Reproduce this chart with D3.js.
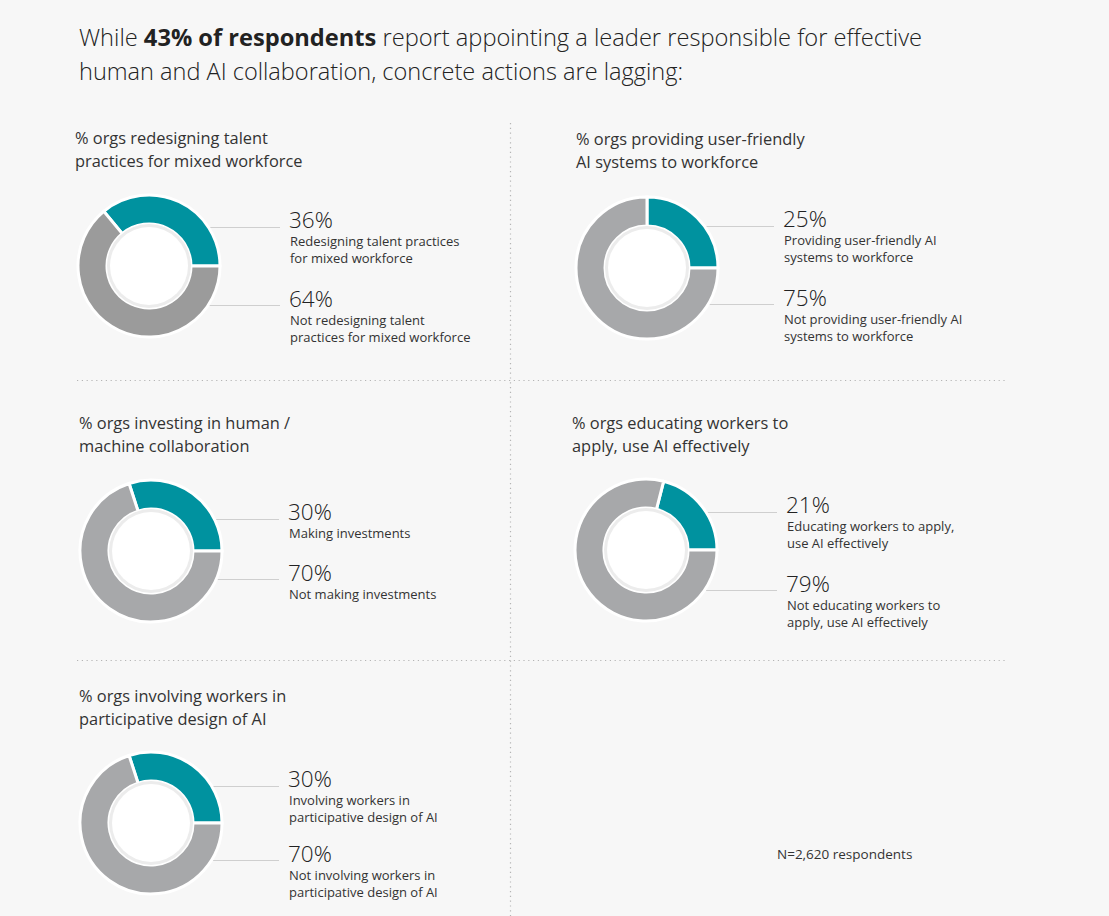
<!DOCTYPE html>
<html>
<head>
<meta charset="utf-8">
<script src="https://cdn.jsdelivr.net/npm/d3@7"></script>
<style>
  html, body { margin: 0; padding: 0; background: #f7f7f7; }
  svg { display: block; font-family: "Open Sans", "Noto Sans", sans-serif; }
</style>
</head>
<body>
<svg id="chart" width="1109" height="916"></svg>
<script>
// ---------- DATA ----------
const titleParts = [
  [{t: "While ", b: false}, {t: "43% of respondents", b: true}, {t: " report appointing a leader responsible for effective", b: false}],
  [{t: "human and AI collaboration, concrete actions are lagging:", b: false}]
];
const panelTitles = [
  ["% orgs redesigning talent", "practices for mixed workforce"],
  ["% orgs providing user-friendly", "AI systems to workforce"],
  ["% orgs investing in human /", "machine collaboration"],
  ["% orgs educating workers to", "apply, use AI effectively"],
  ["% orgs involving workers in", "participative design of AI"]
];
const yesValues = [36, 25, 30, 21, 30];
const noValues  = [64, 75, 70, 79, 70];
const yesLabels = [
  ["Redesigning talent practices", "for mixed workforce"],
  ["Providing user-friendly AI", "systems to workforce"],
  ["Making investments"],
  ["Educating workers to apply,", "use AI effectively"],
  ["Involving workers in", "participative design of AI"]
];
const noLabels = [
  ["Not redesigning talent", "practices for mixed workforce"],
  ["Not providing user-friendly AI", "systems to workforce"],
  ["Not making investments"],
  ["Not educating workers to", "apply, use AI effectively"],
  ["Not involving workers in", "participative design of AI"]
];
const footnote = "N=2,620 respondents";

// ---------- LAYOUT ----------
const layout = [
  {tx: 75,  ty: 144, cx: 149, cy: 266, lx: 290, yesY: 228, noY: 307, grey: "#9b9b9b"},
  {tx: 576, ty: 145, cx: 647, cy: 268, lx: 784, yesY: 227, noY: 306, grey: "#a7a8aa"},
  {tx: 79,  ty: 429, cx: 151, cy: 551, lx: 289, yesY: 520, noY: 581, grey: "#a7a8aa"},
  {tx: 572, ty: 429, cx: 646, cy: 550, lx: 787, yesY: 513, noY: 592, grey: "#a7a8aa"},
  {tx: 79,  ty: 702, cx: 151, cy: 823, lx: 289, yesY: 787, noY: 862, grey: "#a7a8aa"}
];
const teal = "#00929f";
const outerR = 71, innerR = 42, holeR = 39;

const svg = d3.select("#chart");
svg.append("rect").attr("width", 1109).attr("height", 916).attr("fill", "#f7f7f7");

// Title
const title = svg.append("g").attr("fill", "#222").style("font-size", "24px");
titleParts.forEach((parts, i) => {
  const t = title.append("text").attr("x", 79).attr("y", 46 + i * 34)
    .attr("textLength", i === 0 ? 843 : 604).attr("lengthAdjust", "spacingAndGlyphs");
  parts.forEach(p => t.append("tspan").text(p.t)
    .attr("font-weight", p.b ? 700 : 300));
});

// Dotted dividers
const div = svg.append("g").attr("stroke", "#b5b5b5").attr("stroke-width", 1.2)
  .attr("stroke-dasharray", "1.2,3.6");
div.append("line").attr("x1", 510.5).attr("x2", 510.5).attr("y1", 123).attr("y2", 916);
[380.5, 660.5].forEach(y => div.append("line").attr("x1", 77).attr("x2", 1007).attr("y1", y).attr("y2", y));

const arc = d3.arc().innerRadius(innerR).outerRadius(outerR);

panelTitles.forEach((pt, i) => {
  const L = layout[i];
  const g = svg.append("g");
  // panel title
  pt.forEach((line, j) => g.append("text").attr("x", L.tx).attr("y", L.ty + j * 23)
    .attr("fill", "#333").style("font-size", "16.4px").text(line));

  // leader lines (drawn behind donut)
  [L.yesY - 1, L.noY - 2].forEach(y => g.append("line")
    .attr("x1", L.cx + 40).attr("x2", L.lx - 10).attr("y1", y + 0.5).attr("y2", y + 0.5)
    .attr("stroke", "#cfcfcf").attr("stroke-width", 1));

  // donut
  const start = Math.PI / 2 - 2 * Math.PI * yesValues[i] / 100;
  const pie = d3.pie().sort(null).startAngle(start).endAngle(start + 2 * Math.PI);
  const arcs = pie([yesValues[i], noValues[i]]);
  const dg = g.append("g").attr("transform", `translate(${L.cx},${L.cy})`);
  dg.selectAll("path").data(arcs).join("path")
    .attr("d", arc)
    .attr("fill", (d, k) => k === 0 ? teal : L.grey)
    .attr("stroke", "#ffffff").attr("stroke-width", 3).attr("stroke-linejoin", "miter");
  dg.append("circle").attr("r", innerR).attr("fill", "#ececec");
  dg.append("circle").attr("r", holeR).attr("fill", "#ffffff");

  // labels
  const lab = (y, val, lines) => {
    g.append("text").attr("x", L.lx - 1).attr("y", y).attr("fill", "#222")
      .style("font-size", "22.5px").attr("font-weight", 300).text(val + "%");
    lines.forEach((ln, j) => g.append("text").attr("x", L.lx).attr("y", y + 18 + j * 17)
      .attr("fill", "#333").style("font-size", "13px").text(ln));
  };
  lab(L.yesY, yesValues[i], yesLabels[i]);
  lab(L.noY, noValues[i], noLabels[i]);
});

svg.append("text").attr("x", 777).attr("y", 859).attr("fill", "#333")
  .style("font-size", "13.5px").text(footnote);
</script>
</body>
</html>
